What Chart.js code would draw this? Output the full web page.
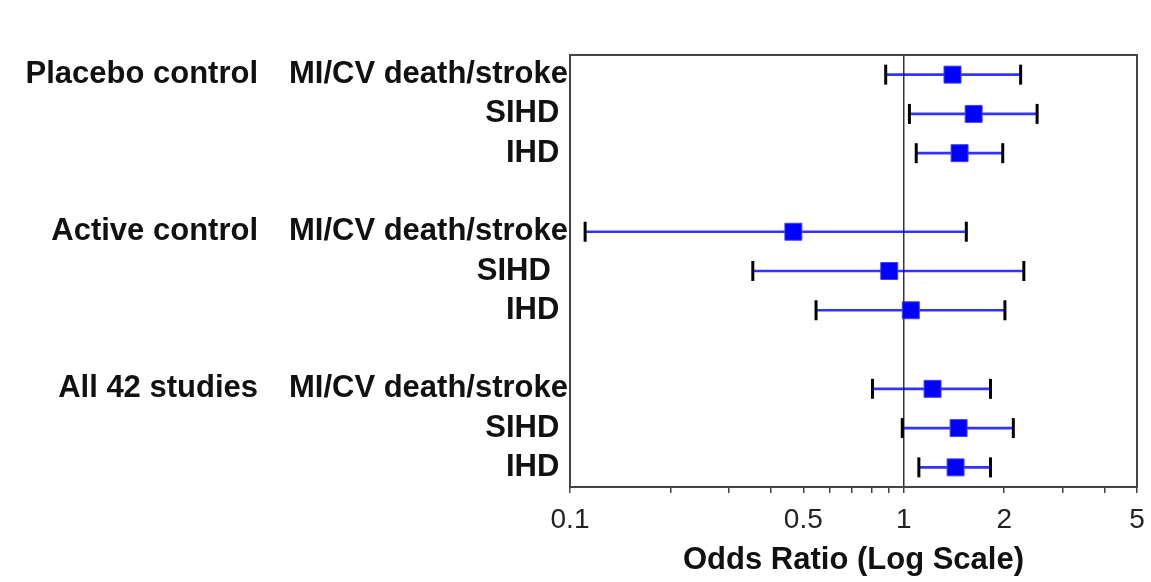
<!DOCTYPE html>
<html>
<head>
<meta charset="utf-8">
<script src="https://cdn.jsdelivr.net/npm/chart.js@4/dist/chart.umd.min.js"></script>
<style>
  html, body { margin: 0; padding: 0; background: #fff; }
  #wrap { width: 1151px; height: 582px; position: relative; }
</style>
</head>
<body>
<div id="wrap"><canvas id="chart"></canvas></div>
<script>
// rows top to bottom, blank rows separate the groups (trailing spaces as in the original labels)
const rowLabels = ['MI/CV death/stroke', 'SIHD ', 'IHD ', '', 'MI/CV death/stroke', 'SIHD  ', 'IHD ', '', 'MI/CV death/stroke', 'SIHD ', 'IHD '];
const groupLabels = ['Placebo control', '', '', '', 'Active control', '', '', '', 'All 42 studies', '', ''];
const oddsRatio = [1.40, 1.62, 1.47, null, 0.467, 0.905, 1.05, null, 1.22, 1.46, 1.43];
const ciLow = [0.883, 1.04, 1.09, null, 0.111, 0.353, 0.546, null, 0.806, 0.99, 1.11];
const ciHigh = [2.24, 2.51, 1.98, null, 1.54, 2.29, 2.01, null, 1.82, 2.13, 1.82];
const tickValues = [0.1, 0.2, 0.3, 0.4, 0.5, 0.6, 0.7, 0.8, 0.9, 1, 2, 3, 4, 5];
const tickLabels = [0.1, 0.5, 1, 2, 5];

// y is the row index, so it must match the position in the array
const toPoints = arr => arr.map((v, i) => ({ x: v, y: i }));

const frame = {
  id: 'frame',
  afterDraw(chart) {
    const { ctx, chartArea: a } = chart;
    ctx.save();
    ctx.strokeStyle = '#444';
    ctx.lineWidth = 2;
    ctx.strokeRect(a.left, a.top, a.right - a.left, a.bottom - a.top);
    ctx.restore();
  }
};

const cap = arr => ({
  type: 'scatter',
  data: toPoints(arr),
  pointStyle: 'line',
  rotation: 90,
  pointRadius: 10,
  borderColor: '#000',
  borderWidth: 3,
  order: 1
});

const labelFont = { family: 'Liberation Sans', size: 31, weight: 'bold' };

new Chart(document.getElementById('chart'), {
  type: 'bar',
  data: {
    labels: rowLabels,
    datasets: [
      {
        type: 'scatter',
        data: toPoints(oddsRatio),
        pointStyle: 'rect',
        pointRadius: 12,
        backgroundColor: '#0000ff',
        borderColor: '#4040ff',
        borderWidth: 1,
        order: 0
      },
      cap(ciLow),
      cap(ciHigh),
      {
        data: ciLow.map((v, i) => v == null ? null : [v, ciHigh[i]]),
        backgroundColor: 'rgba(0,0,255,0.8)',
        barThickness: 2,
        order: 2
      }
    ]
  },
  options: {
    indexAxis: 'y',
    responsive: true,
    maintainAspectRatio: false,
    animation: false,
    layout: { padding: { top: 55, right: 14, bottom: 0, left: 0 } },
    plugins: { legend: { display: false }, tooltip: { enabled: false } },
    scales: {
      x: {
        type: 'logarithmic',
        min: 0.1,
        max: 5,
        afterBuildTicks: s => { s.ticks = tickValues.map(v => ({ value: v })); },
        afterFit: s => { s.height = 95; s.paddingRight = 0; s.paddingLeft = 0; },
        border: { display: false },
        grid: {
          color: c => c.tick && c.tick.value === 1 ? '#333' : 'transparent',
          lineWidth: 1.5,
          tickColor: '#444',
          tickLength: 6
        },
        ticks: {
          autoSkip: false,
          maxRotation: 0,
          padding: 10,
          color: '#222',
          font: { family: 'Liberation Sans', size: 28 },
          callback: v => tickLabels.includes(v) ? String(v) : ''
        },
        title: {
          display: true,
          text: 'Odds Ratio (Log Scale)',
          color: '#111',
          font: labelFont,
          padding: { top: 0, bottom: 3 }
        }
      },
      y: {
        type: 'category',
        offset: true,
        weight: 0,
        afterFit: s => { s.width = 308; },
        border: { display: false },
        grid: { display: false, drawTicks: false },
        ticks: { autoSkip: false, padding: 2, color: '#111', font: labelFont }
      },
      y2: {
        type: 'category',
        axis: 'y',
        position: 'left',
        labels: groupLabels,
        offset: true,
        weight: 1,
        afterFit: s => { s.width = 262; },
        border: { display: false },
        grid: { display: false, drawTicks: false },
        ticks: { autoSkip: false, padding: 4, color: '#111', font: labelFont }
      }
    }
  },
  plugins: [frame]
});
</script>
</body>
</html>
